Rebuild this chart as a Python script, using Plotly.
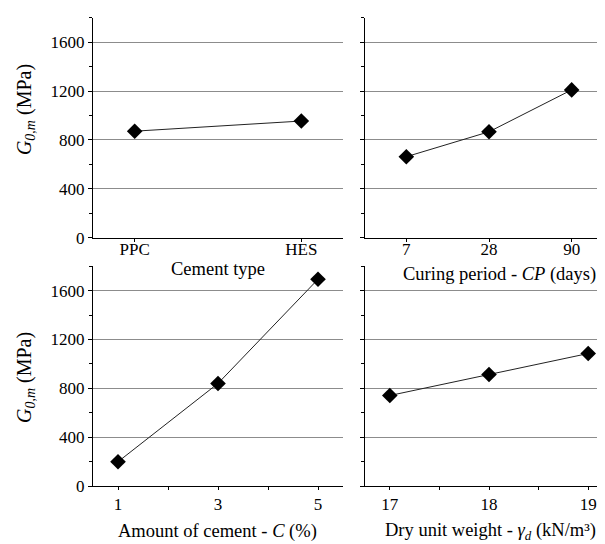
import plotly.graph_objects as go

# Data
cement_types = ["PPC", "HES"]
g_cement = [872, 955]

curing_days = ["7", "28", "90"]
g_curing = [663, 867, 1210]

cement_pct = [1, 3, 5]
g_pct = [199, 840, 1693]

dry_weight = [17, 18, 19]
g_weight = [741, 913, 1085]

y_ticks = [0, 400, 800, 1200, 1600]

FONT = "Liberation Serif, Times New Roman, serif"
W, H = 605, 544

def px_x(v):
    return v / W

def px_y(v):
    return 1 - v / H

line_style = dict(color="#222222", width=1)
marker_style = dict(symbol="diamond", size=12, color="black")

fig = go.Figure()
fig.add_trace(go.Scatter(x=cement_types, y=g_cement, mode="lines+markers",
                         line=line_style, marker=marker_style, xaxis="x", yaxis="y"))
fig.add_trace(go.Scatter(x=curing_days, y=g_curing, mode="lines+markers",
                         line=line_style, marker=marker_style, xaxis="x2", yaxis="y2"))
fig.add_trace(go.Scatter(x=cement_pct, y=g_pct, mode="lines+markers",
                         line=line_style, marker=marker_style, xaxis="x3", yaxis="y3"))
fig.add_trace(go.Scatter(x=dry_weight, y=g_weight, mode="lines+markers",
                         line=line_style, marker=marker_style, xaxis="x4", yaxis="y4"))

left_dom = [px_x(85), px_x(335)]
right_dom = [px_x(357), 1.0]
top_dom = [px_y(234), px_y(10)]
bot_dom = [px_y(487), px_y(263)]

tickfont = dict(family=FONT, size=17, color="black")

def xaxis(domain, anchor, **kw):
    d = dict(domain=domain, anchor=anchor, showline=True, linecolor="black", linewidth=1,
             ticks="outside", ticklen=3, tickcolor="black", showgrid=False, zeroline=False,
             tickfont=tickfont)
    d.update(kw)
    return d

def yaxis(domain, anchor, labels=True):
    return dict(domain=domain, anchor=anchor, range=[0, 1800], tickvals=y_ticks,
                showticklabels=labels, showline=True, linecolor="black", linewidth=1,
                ticks="outside", ticklen=4, tickcolor="black",
                minor=dict(dtick=200, ticks="outside", ticklen=3, tickcolor="black", showgrid=False),
                showgrid=True, gridcolor="#8c8c8c", gridwidth=1, zeroline=False,
                tickfont=tickfont)

fig.update_layout(
    width=W, height=H, margin=dict(l=0, r=0, t=0, b=0),
    paper_bgcolor="white", plot_bgcolor="white", showlegend=False,
    font=dict(family=FONT, color="black"),
    xaxis=xaxis(left_dom, "y", type="category", range=[-0.25, 1.25], ticklabelstandoff=-7),
    yaxis=yaxis(top_dom, "x", True),
    xaxis2=xaxis(right_dom, "y2", type="category", range=[-0.5, 2.5], ticklabelstandoff=-7),
    yaxis2=yaxis(top_dom, "x2", False),
    xaxis3=xaxis(left_dom, "y3", range=[0.5, 5.5], tickvals=cement_pct,
                 minor=dict(tickvals=[2, 4], ticks="outside", ticklen=3, tickcolor="black")),
    yaxis3=yaxis(bot_dom, "x3", True),
    xaxis4=xaxis(right_dom, "y4", range=[16.75, 19.25], tickvals=dry_weight,
                 minor=dict(tickvals=[17.5, 18.5], ticks="outside", ticklen=3, tickcolor="black")),
    yaxis4=yaxis(bot_dom, "x4", False),
)

title_font = dict(family=FONT, size=18.5, color="black")
ytitle_font = dict(family=FONT, size=20, color="black")
ytitle = "<i>G</i><sub><i>0,m</i></sub> (MPa)"
annots = [
    dict(text=ytitle, x=px_x(17), y=px_y(104), textangle=-90, font=ytitle_font),
    dict(text=ytitle, x=px_x(17), y=px_y(377), textangle=-90, font=ytitle_font),
    dict(text="Cement type", x=px_x(210), y=px_y(266), font=title_font),
    dict(text="Curing period - <i>CP</i> (days)", x=px_x(491), y=px_y(271), font=title_font),
    dict(text="Amount of cement - <i>C</i> (%)", x=px_x(209), y=px_y(533), font=title_font),
    dict(text="Dry unit weight - <i>γ</i><sub><i>d</i></sub> (kN/m³)", x=px_x(482), y=px_y(533), font=title_font),
]
for a in annots:
    fig.add_annotation(xref="paper", yref="paper", showarrow=False,
                       xanchor="center", yanchor="middle", **a)

fig.write_html("out.html")
